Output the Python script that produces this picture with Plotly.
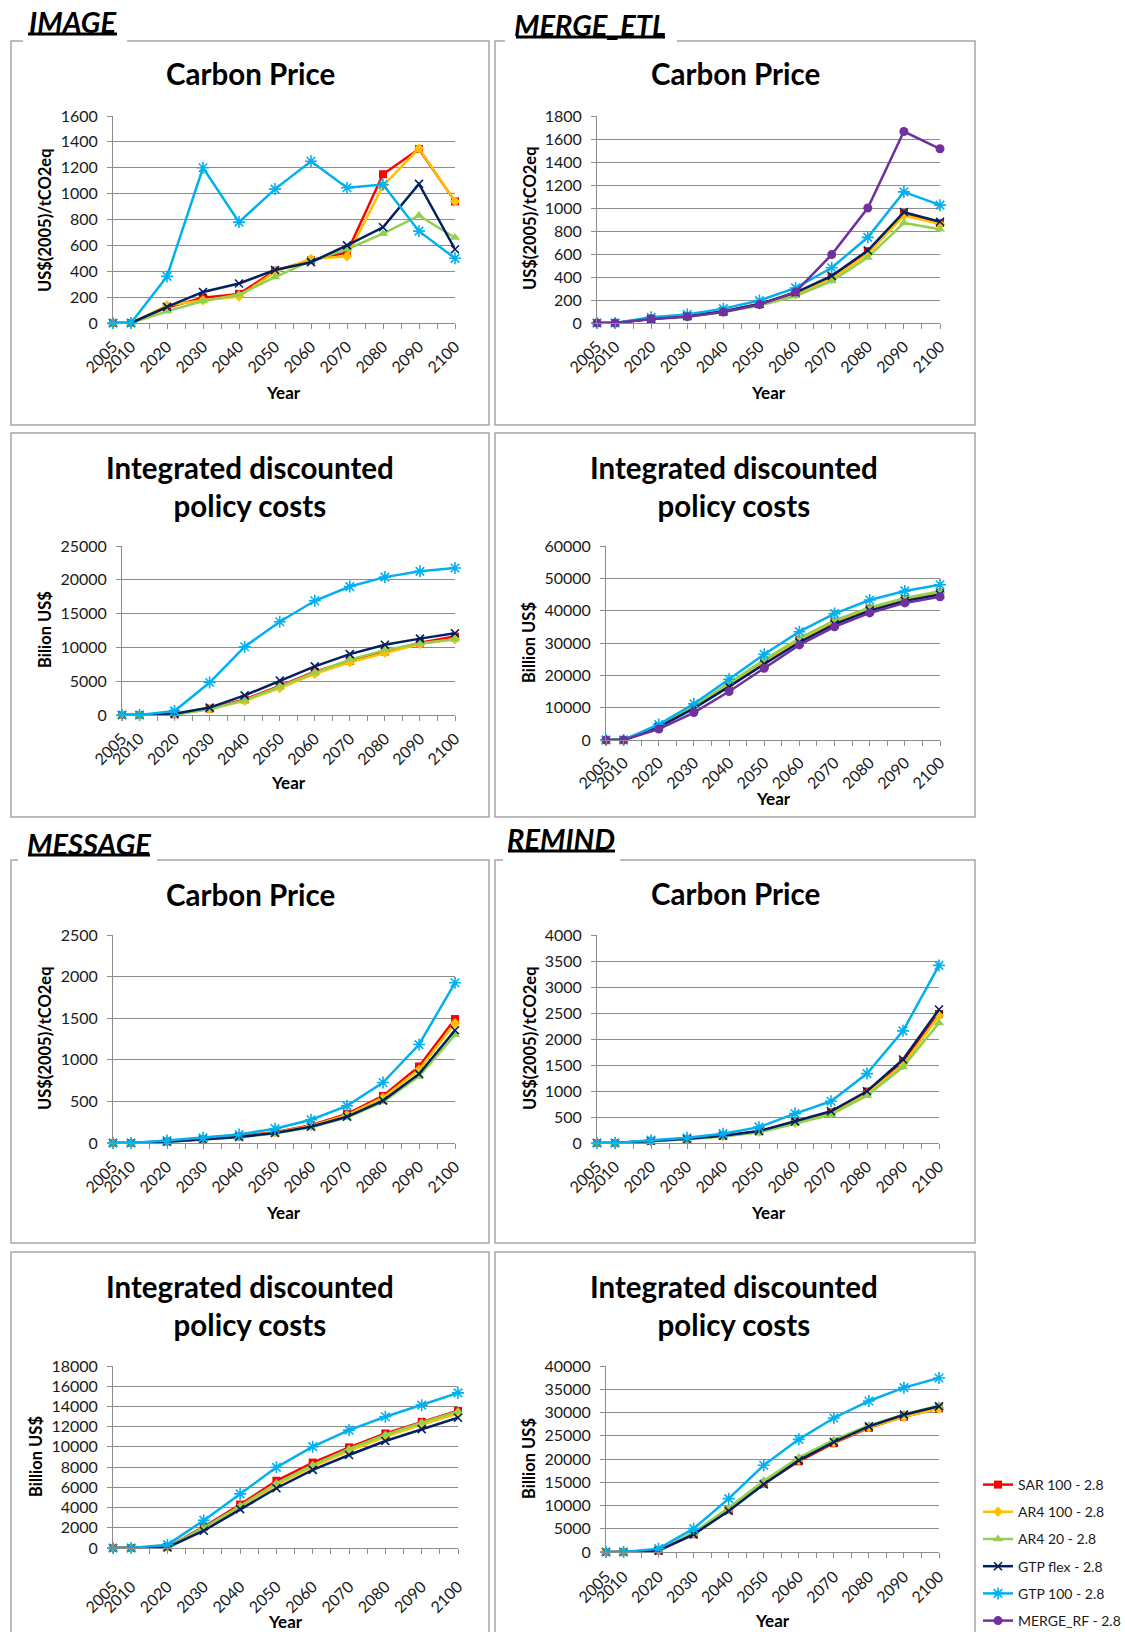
import plotly.graph_objects as go

W, H = 1125, 1632


def X(px):
    return px / W


def Y(py):
    return 1 - py / H


# ---------------- data ----------------
years = [2005, 2010, 2020, 2030, 2040, 2050, 2060, 2070, 2080, 2090, 2100]
year_labels = [str(v) for v in years]

series_names = ["SAR 100 - 2.8", "AR4 100 - 2.8", "AR4 20 - 2.8",
                "GTP flex - 2.8", "GTP 100 - 2.8", "MERGE_RF - 2.8"]

# IMAGE - carbon price
image_cp_sar = [0, 0, 120, 195, 225, 405, 485, 545, 1150, 1345, 940]
image_cp_ar4_100 = [0, 0, 135, 175, 205, 395, 495, 515, 1060, 1350, 940]
image_cp_ar4_20 = [0, 0, 90, 170, 220, 355, 480, 570, 690, 830, 660]
image_cp_gtpflex = [0, 0, 125, 240, 305, 410, 470, 600, 740, 1075, 570]
image_cp_gtp100 = [0, 0, 360, 1200, 780, 1035, 1250, 1045, 1070, 710, 500]

# MERGE_ETL - carbon price
merge_cp_sar = [0, 0, 40, 60, 100, 165, 260, 400, 625, 955, 870]
merge_cp_ar4_100 = [0, 0, 38, 58, 98, 160, 250, 385, 600, 935, 860]
merge_cp_ar4_20 = [0, 0, 35, 55, 95, 150, 235, 365, 570, 870, 815]
merge_cp_gtpflex = [0, 0, 35, 60, 100, 165, 265, 410, 630, 965, 880]
merge_cp_gtp100 = [0, 0, 50, 75, 125, 195, 305, 480, 745, 1140, 1025]
merge_cp_rf = [0, 0, 35, 55, 95, 160, 270, 595, 1000, 1665, 1515]

# IMAGE - integrated discounted policy costs
image_pc_sar = [0, 0, 100, 950, 2300, 4300, 6400, 8000, 9400, 10700, 11600]
image_pc_ar4_100 = [0, 0, 100, 900, 2100, 4000, 6100, 7800, 9200, 10500, 11200]
image_pc_ar4_20 = [0, 0, 50, 850, 2200, 4200, 6300, 8200, 9600, 10600, 11200]
image_pc_gtpflex = [0, 0, 200, 1100, 2900, 5100, 7200, 9000, 10400, 11300, 12100]
image_pc_gtp100 = [0, 0, 600, 4800, 10100, 13800, 16900, 19000, 20400, 21250, 21750]

# MERGE_ETL - integrated discounted policy costs
merge_pc_sar = [0, 0, 4200, 10200, 17200, 24300, 31000, 36600, 40600, 43600, 45600]
merge_pc_ar4_100 = [0, 0, 4100, 10000, 17000, 24000, 30800, 36300, 40400, 43400, 45400]
merge_pc_ar4_20 = [0, 0, 4300, 10500, 17600, 24800, 31500, 37000, 41000, 43900, 46000]
merge_pc_gtpflex = [0, 0, 4000, 9800, 16500, 23500, 30200, 35800, 40000, 43000, 45000]
merge_pc_gtp100 = [0, 0, 4800, 11200, 18800, 26500, 33500, 39100, 43300, 46100, 48000]
merge_pc_rf = [0, 0, 3400, 8500, 15000, 22200, 29400, 35000, 39300, 42400, 44300]

# MESSAGE - carbon price
message_cp_sar = [0, 0, 20, 45, 80, 130, 215, 350, 565, 920, 1490]
message_cp_ar4_100 = [0, 0, 20, 43, 75, 125, 205, 335, 545, 880, 1440]
message_cp_ar4_20 = [0, 0, 15, 38, 68, 115, 190, 305, 495, 800, 1300]
message_cp_gtpflex = [0, 0, 15, 40, 72, 120, 195, 315, 510, 830, 1355]
message_cp_gtp100 = [0, 0, 30, 62, 102, 172, 280, 447, 727, 1183, 1926]

# REMIND - carbon price
remind_cp_sar = [0, 0, 40, 80, 135, 225, 410, 590, 990, 1570, 2480]
remind_cp_ar4_100 = [0, 0, 38, 75, 130, 215, 390, 570, 950, 1500, 2450]
remind_cp_ar4_20 = [0, 0, 35, 70, 125, 205, 370, 545, 910, 1460, 2310]
remind_cp_gtpflex = [0, 0, 40, 80, 140, 230, 417, 610, 995, 1605, 2567]
remind_cp_gtp100 = [0, 0, 55, 100, 180, 305, 565, 802, 1335, 2157, 3415]

# MESSAGE - integrated discounted policy costs
message_pc_sar = [0, 0, 100, 2100, 4300, 6650, 8450, 9950, 11330, 12480, 13570]
message_pc_ar4_100 = [0, 0, 80, 1950, 4050, 6250, 8050, 9600, 11000, 12200, 13300]
message_pc_ar4_20 = [0, 0, 80, 2000, 4150, 6400, 8200, 9800, 11200, 12400, 13500]
message_pc_gtpflex = [0, 0, 50, 1710, 3840, 5910, 7720, 9200, 10580, 11760, 12880]
message_pc_gtp100 = [0, 0, 330, 2730, 5350, 7980, 10020, 11660, 12980, 14130, 15340]

# REMIND - integrated discounted policy costs
remind_pc_sar = [0, 0, 300, 3800, 9000, 14700, 19500, 23400, 26700, 29100, 30900]
remind_pc_ar4_100 = [0, 0, 300, 4000, 9200, 15000, 19800, 23600, 26800, 29100, 30800]
remind_pc_ar4_20 = [0, 0, 300, 4200, 9500, 15300, 20300, 24100, 27200, 29600, 31500]
remind_pc_gtpflex = [0, 0, 300, 3800, 8820, 14550, 19710, 23650, 27020, 29530, 31330]
remind_pc_gtp100 = [0, 0, 720, 5020, 11470, 18640, 24230, 28820, 32470, 35340, 37420]

# ---------------- styles ----------------
series_colors = ["#FF0000", "#FFC000", "#92D050", "#002060", "#00B0F0", "#7030A0"]
series_symbols = ["square", "diamond", "triangle-up", "x-thin-open", "asterisk-open", "circle"]
series_msize = [8, 8, 9, 8, 10, 9]

FONT = "Lato"
GRID = "#8C8C8C"
BORDER = "#A6A6A6"
TXT = "#1a1a1a"

CP_TITLE = "Carbon Price"
PC_TITLE = "Integrated discounted<br>policy costs"

panels = [
    dict(data=[image_cp_sar, image_cp_ar4_100, image_cp_ar4_20, image_cp_gtpflex, image_cp_gtp100, None],
         ymax=1600, dtick=200, xd=(113, 455), yd=(116, 323), title=CP_TITLE, txy=(250, 74),
         ytitle="US$(2005)/tCO2eq", yxy=(45, 220), year=(283, 392), standoff=2),
    dict(data=[merge_cp_sar, merge_cp_ar4_100, merge_cp_ar4_20, merge_cp_gtpflex, merge_cp_gtp100, merge_cp_rf],
         ymax=1800, dtick=200, xd=(597, 940), yd=(116, 323), title=CP_TITLE, txy=(735, 74),
         ytitle="US$(2005)/tCO2eq", yxy=(530, 218), year=(768, 392), standoff=2),
    dict(data=[image_pc_sar, image_pc_ar4_100, image_pc_ar4_20, image_pc_gtpflex, image_pc_gtp100, None],
         ymax=25000, dtick=5000, xd=(122, 455), yd=(546, 715), title=PC_TITLE, txy=(250, 486),
         ytitle="Bilion US$", yxy=(45, 630), year=(288, 783), standoff=2),
    dict(data=[merge_pc_sar, merge_pc_ar4_100, merge_pc_ar4_20, merge_pc_gtpflex, merge_pc_gtp100, merge_pc_rf],
         ymax=60000, dtick=10000, xd=(606, 940), yd=(546, 740), title=PC_TITLE, txy=(734, 486),
         ytitle="Billion US$", yxy=(529, 643), year=(773, 798), standoff=1),
    dict(data=[message_cp_sar, message_cp_ar4_100, message_cp_ar4_20, message_cp_gtpflex, message_cp_gtp100, None],
         ymax=2500, dtick=500, xd=(113, 455), yd=(935, 1143), title=CP_TITLE, txy=(250, 894),
         ytitle="US$(2005)/tCO2eq", yxy=(45, 1038), year=(283, 1212), standoff=2),
    dict(data=[remind_cp_sar, remind_cp_ar4_100, remind_cp_ar4_20, remind_cp_gtpflex, remind_cp_gtp100, None],
         ymax=4000, dtick=500, xd=(597, 939), yd=(935, 1143), title=CP_TITLE, txy=(735, 893),
         ytitle="US$(2005)/tCO2eq", yxy=(530, 1038), year=(768, 1212), standoff=2),
    dict(data=[message_pc_sar, message_pc_ar4_100, message_pc_ar4_20, message_pc_gtpflex, message_pc_gtp100, None],
         ymax=18000, dtick=2000, xd=(113, 458), yd=(1366, 1548), title=PC_TITLE, txy=(250, 1305),
         ytitle="Billion US$", yxy=(36, 1457), year=(285, 1621), standoff=17),
    dict(data=[remind_pc_sar, remind_pc_ar4_100, remind_pc_ar4_20, remind_pc_gtpflex, remind_pc_gtp100, None],
         ymax=40000, dtick=5000, xd=(606, 939), yd=(1366, 1552), title=PC_TITLE, txy=(734, 1305),
         ytitle="Billion US$", yxy=(529, 1459), year=(772, 1620), standoff=3),
]

# panel frames: (left, top, right, bottom, gap_start, gap_end)
frames = [
    (11, 41, 489, 425, 23, 127),
    (495, 41, 975, 425, 505, 677),
    (11, 433, 489, 817, None, None),
    (495, 433, 975, 817, None, None),
    (11, 860, 489, 1243, 18, 157),
    (495, 860, 975, 1243, 503, 620),
    (11, 1252, 489, 1650, None, None),
    (495, 1252, 975, 1650, None, None),
]

# model headers: text, center x, center y, underline x0, x1, y
headers = [
    ("IMAGE", 72, 22, 28, 117, 34),
    ("MERGE_ETL", 590, 25, 516, 665, 37),
    ("MESSAGE", 89, 843, 28, 150, 855),
    ("REMIND", 561, 839, 508, 615, 851),
]

fig = go.Figure()
layout = {}
annotations = []
shapes = []
shown = set()

for i, p in enumerate(panels):
    n = "" if i == 0 else str(i + 1)
    xa, ya = "x" + n, "y" + n
    for s, vals in enumerate(p["data"]):
        if vals is None:
            continue
        sym = series_symbols[s]
        marker = dict(symbol=sym, size=series_msize[s], color=series_colors[s])
        if sym.endswith("open"):
            marker["line"] = dict(color=series_colors[s], width=1.6)
        else:
            marker["line"] = dict(width=0)
        fig.add_trace(go.Scatter(
            x=years, y=vals, xaxis=xa, yaxis=ya, mode="lines+markers",
            name=series_names[s], legendgroup=series_names[s], legendrank=s + 1,
            showlegend=series_names[s] not in shown,
            line=dict(color=series_colors[s], width=2.5), marker=marker,
            cliponaxis=False, hoverinfo="skip"))
        shown.add(series_names[s])

    layout["xaxis" + n] = dict(
        domain=[X(p["xd"][0]), X(p["xd"][1])], anchor=ya, range=[2005, 2100],
        tickmode="array", tickvals=years, ticktext=year_labels, tickangle=-45,
        ticks="outside", ticklen=5, tickcolor=GRID, tickwidth=1,
        ticklabelstandoff=p["standoff"], automargin=False,
        minor=dict(dtick=5, tick0=2005, ticks="outside", ticklen=5, tickcolor=GRID, showgrid=False),
        showline=True, linecolor=GRID, linewidth=1, showgrid=False, zeroline=False,
        tickfont=dict(family=FONT, size=16, color=TXT), fixedrange=True)
    layout["yaxis" + n] = dict(
        domain=[Y(p["yd"][1]), Y(p["yd"][0])], anchor=xa, range=[0, p["ymax"]],
        dtick=p["dtick"], tick0=0, tickformat="d", ticks="outside", ticklen=5, tickcolor=GRID,
        ticklabelstandoff=6, automargin=False,
        showline=True, linecolor=GRID, linewidth=1, showgrid=True, gridcolor=GRID,
        gridwidth=1, zeroline=False,
        tickfont=dict(family=FONT, size=16, color=TXT), fixedrange=True)

    annotations.append(dict(
        text=p["title"], x=X(p["txy"][0]), y=Y(p["txy"][1]), xref="paper", yref="paper",
        xanchor="center", yanchor="middle", showarrow=False,
        font=dict(family=FONT, size=29.5, color="#000000", weight="bold")))
    annotations.append(dict(
        text=p["ytitle"], x=X(p["yxy"][0]), y=Y(p["yxy"][1]), xref="paper", yref="paper",
        xanchor="center", yanchor="middle", showarrow=False, textangle=-90,
        font=dict(family=FONT, size=16.5, color="#000000", weight="bold")))
    annotations.append(dict(
        text="Year", x=X(p["year"][0]), y=Y(p["year"][1]), xref="paper", yref="paper",
        xanchor="center", yanchor="middle", showarrow=False,
        font=dict(family=FONT, size=17, color="#000000", weight="bold")))

for (l, t, r, b, g0, g1) in frames:
    if g0 is None:
        path = f"M {X(l)},{Y(t)} L {X(r)},{Y(t)} L {X(r)},{Y(b)} L {X(l)},{Y(b)} Z"
    else:
        path = (f"M {X(g1)},{Y(t)} L {X(r)},{Y(t)} L {X(r)},{Y(b)} L {X(l)},{Y(b)} "
                f"L {X(l)},{Y(t)} L {X(g0)},{Y(t)}")
    shapes.append(dict(type="path", path=path, xref="paper", yref="paper",
                       line=dict(color=BORDER, width=1.5), layer="below"))

for (txt, cx, cy, u0, u1, uy) in headers:
    annotations.append(dict(
        text=txt, x=X(cx), y=Y(cy), xref="paper", yref="paper", xanchor="center",
        yanchor="middle", showarrow=False,
        font=dict(family=FONT, size=29, color="#000000", weight="bold", style="italic")))
    shapes.append(dict(type="line", x0=X(u0), x1=X(u1), y0=Y(uy), y1=Y(uy),
                       xref="paper", yref="paper", line=dict(color="#000000", width=3)))

fig.update_layout(
    **layout,
    width=W, height=H, margin=dict(l=0, r=0, t=0, b=0, pad=0, autoexpand=False),
    paper_bgcolor="white", plot_bgcolor="white",
    annotations=annotations, shapes=shapes,
    showlegend=True,
    legend=dict(x=X(978), y=Y(1469), xanchor="left", yanchor="top",
                font=dict(family=FONT, size=14, color=TXT),
                tracegroupgap=6, bgcolor="rgba(0,0,0,0)", itemwidth=30),
)

fig.write_html("out.html", config={"displayModeBar": False},
               post_script="document.body.style.margin='0';document.body.style.overflow='hidden';")
